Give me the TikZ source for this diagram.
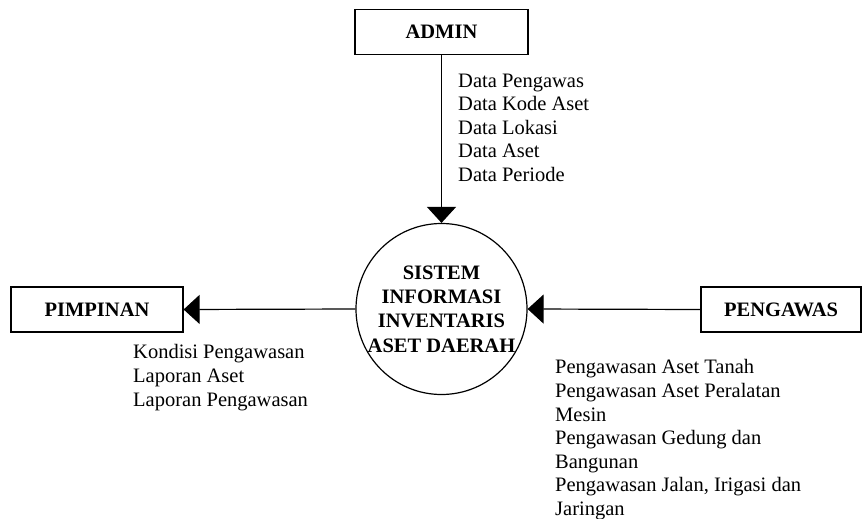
\documentclass[tikz,border=0pt]{standalone}
\usepackage{fontspec}
\setmainfont{Liberation Serif}
\usetikzlibrary{arrows.meta}

\tikzset{
  entity/.style={draw, line width=1.2pt, minimum height=45pt, inner sep=0pt,
    font=\fontsize{20.5}{24}\selectfont\bfseries},
  process/.style={draw, circle, line width=1.2pt, minimum size=171pt, inner sep=0pt,
    align=center, font=\fontsize{20.5}{24.3}\selectfont\bfseries},
  flow/.style={line width=1.2pt, -{Triangle[length=16pt,width=29pt]}},
  flowtext/.style={anchor=north west, inner sep=0pt, align=left,
    font=\fontsize{20.5}{23.6}\selectfont}
}

\begin{document}
\begin{tikzpicture}[x=1pt, y=-1pt]
  \useasboundingbox (0,0) rectangle (862,519);

  % external entities
  \node[entity, minimum width=173pt] (admin) at (441.5,32) {ADMIN};
  \node[entity, minimum width=172pt] (pimpinan) at (97,309.5) {PIMPINAN};
  \node[entity, minimum width=160pt] (pengawas) at (781,309.5) {PENGAWAS};

  % the system process
  \node[process] (sistem) at (441.5,309) {SISTEM\\INFORMASI\\INVENTARIS\\ASET DAERAH};

  % data flows
  \draw[flow] (admin.south) -- (sistem.north);
  \draw[flow] (sistem.west) -- (pimpinan.east);
  \draw[flow] (pengawas.west) -- (sistem.east);

  % flow labels
  \node[flowtext] (lbladmin) at (458,73.5)
    {Data Pengawas\\Data Kode Aset\\Data Lokasi\\Data Aset\\Data Periode};
  \node[flowtext] (lblpimpinan) at (133,344.5)
    {Kondisi Pengawasan\\Laporan Aset\\Laporan Pengawasan};
  \node[flowtext] (lblpengawas) at (555,359.5)
    {Pengawasan Aset Tanah\\Pengawasan Aset Peralatan\\Mesin\\Pengawasan Gedung dan\\Bangunan\\Pengawasan Jalan, Irigasi dan\\Jaringan};
\end{tikzpicture}
\end{document}
